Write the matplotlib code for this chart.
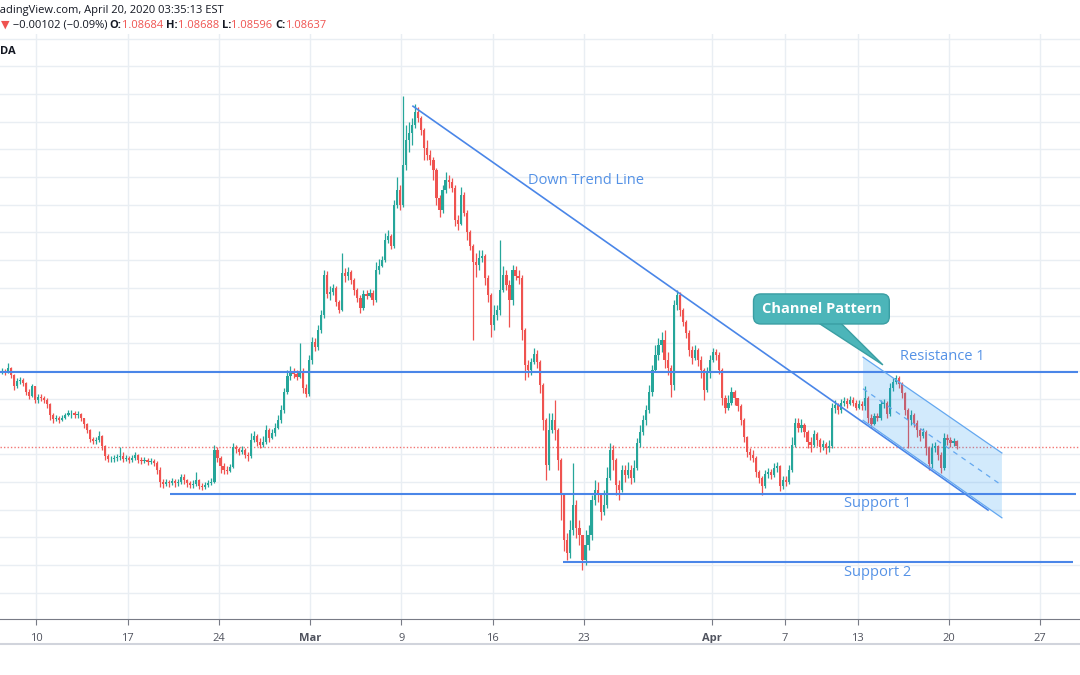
import numpy as np
import matplotlib
matplotlib.use('Agg')
import matplotlib.pyplot as plt
from matplotlib.patches import Polygon
from matplotlib.lines import Line2D

plt.rcParams['font.family'] = ['Open Sans', 'DejaVu Sans']

# EUR/USD, 4h candles from Feb 6 to Apr 20 2020
# (x axis counts trading days, Feb 10 = 0; six bars per day)
first_open = 1.0998
close = [
    1.1000, 1.0998, 1.1006, 1.0993, 1.0973, 1.0982,
    1.0984, 1.0979, 1.0962, 1.0955, 1.0973, 1.0947,
    1.0953, 1.0952, 1.0947, 1.0940, 1.0920, 1.0913,
    1.0915, 1.0911, 1.0915, 1.0920, 1.0924, 1.0924,
    1.0920, 1.0922, 1.0915, 1.0904, 1.0893, 1.0877,
    1.0873, 1.0875, 1.0882, 1.0864, 1.0846, 1.0841,
    1.0841, 1.0843, 1.0844, 1.0846, 1.0841, 1.0843,
    1.0839, 1.0843, 1.0848, 1.0839, 1.0837, 1.0839,
    1.0835, 1.0837, 1.0834, 1.0821, 1.0799, 1.0796,
    1.0799, 1.0798, 1.0801, 1.0798, 1.0799, 1.0808,
    1.0803, 1.0798, 1.0794, 1.0796, 1.0803, 1.0792,
    1.0790, 1.0794, 1.0798, 1.0799, 1.0857, 1.0843,
    1.0828, 1.0821, 1.0819, 1.0826, 1.0862, 1.0859,
    1.0853, 1.0857, 1.0848, 1.0846, 1.0875, 1.0882,
    1.0871, 1.0866, 1.0871, 1.0893, 1.0879, 1.0888,
    1.0897, 1.0911, 1.0929, 1.0962, 1.0991, 1.1000,
    1.0995, 1.0989, 1.0998, 1.0970, 1.0959, 1.1020,
    1.1052, 1.1043, 1.1074, 1.1101, 1.1173, 1.1139,
    1.1142, 1.1150, 1.1124, 1.1110, 1.1177, 1.1171,
    1.1178, 1.1164, 1.1146, 1.1132, 1.1114, 1.1139,
    1.1135, 1.1141, 1.1128, 1.1182, 1.1189, 1.1200,
    1.1236, 1.1243, 1.1225, 1.1299, 1.1327, 1.1299,
    1.1372, 1.1417, 1.1430, 1.1444, 1.1467, 1.1457,
    1.1435, 1.1403, 1.1390, 1.1381, 1.1363, 1.1312,
    1.1290, 1.1327, 1.1345, 1.1341, 1.1331, 1.1272,
    1.1265, 1.1318, 1.1286, 1.1250, 1.1225, 1.1196,
    1.1191, 1.1204, 1.1207, 1.1168, 1.1137, 1.1083,
    1.1101, 1.1110, 1.1146, 1.1173, 1.1155, 1.1128,
    1.1182, 1.1171, 1.1168, 1.1074, 1.1011, 1.1002,
    1.1016, 1.1031, 1.1016, 1.0975, 1.0911, 1.0830,
    1.0893, 1.0911, 1.0893, 1.0839, 1.0776, 1.0695,
    1.0672, 1.0713, 1.0758, 1.0717, 1.0704, 1.0659,
    1.0686, 1.0704, 1.0767, 1.0785, 1.0776, 1.0745,
    1.0758, 1.0807, 1.0857, 1.0839, 1.0794, 1.0785,
    1.0821, 1.0812, 1.0821, 1.0807, 1.0825, 1.0870,
    1.0889, 1.0911, 1.0929, 1.0962, 1.1002, 1.1029,
    1.1047, 1.1056, 1.1020, 1.1006, 1.0975, 1.1119,
    1.1137, 1.1110, 1.1088, 1.1068, 1.1038, 1.1023,
    1.1038, 1.1020, 1.1002, 1.0966, 1.0998, 1.1020,
    1.1034, 1.1029, 1.1002, 1.0951, 1.0933, 1.0943,
    1.0962, 1.0951, 1.0936, 1.0911, 1.0880, 1.0853,
    1.0848, 1.0843, 1.0817, 1.0807, 1.0792, 1.0814,
    1.0817, 1.0812, 1.0825, 1.0828, 1.0792, 1.0803,
    1.0799, 1.0821, 1.0866, 1.0907, 1.0897, 1.0902,
    1.0889, 1.0871, 1.0866, 1.0886, 1.0875, 1.0862,
    1.0868, 1.0861, 1.0864, 1.0933, 1.0938, 1.0929,
    1.0942, 1.0945, 1.0940, 1.0947, 1.0943, 1.0934,
    1.0940, 1.0936, 1.0952, 1.0915, 1.0904, 1.0918,
    1.0915, 1.0940, 1.0942, 1.0922, 1.0970, 1.0980,
    1.0988, 1.0977, 1.0960, 1.0929, 1.0911, 1.0920,
    1.0907, 1.0893, 1.0882, 1.0889, 1.0861, 1.0832,
    1.0861, 1.0864, 1.0848, 1.0825, 1.0879, 1.0875,
    1.0870, 1.0873, 1.0864,
]
high = [
    1.1006, 1.1004, 1.1015, 1.1007, 1.0995, 1.0988,
    1.0989, 1.0988, 1.0980, 1.0968, 1.0977, 1.0973,
    1.0959, 1.0959, 1.0955, 1.0952, 1.0942, 1.0925,
    1.0920, 1.0918, 1.0920, 1.0925, 1.0929, 1.0929,
    1.0927, 1.0927, 1.0924, 1.0916, 1.0907, 1.0895,
    1.0880, 1.0880, 1.0891, 1.0884, 1.0866, 1.0850,
    1.0846, 1.0848, 1.0850, 1.0862, 1.0853, 1.0848,
    1.0846, 1.0848, 1.0853, 1.0850, 1.0844, 1.0844,
    1.0843, 1.0843, 1.0841, 1.0837, 1.0826, 1.0805,
    1.0805, 1.0803, 1.0807, 1.0805, 1.0805, 1.0814,
    1.0814, 1.0805, 1.0801, 1.0803, 1.0817, 1.0805,
    1.0798, 1.0799, 1.0803, 1.0807, 1.0866, 1.0862,
    1.0846, 1.0834, 1.0828, 1.0832, 1.0870, 1.0866,
    1.0862, 1.0864, 1.0861, 1.0853, 1.0888, 1.0891,
    1.0886, 1.0879, 1.0882, 1.0902, 1.0897, 1.0895,
    1.0906, 1.0920, 1.0938, 1.0970, 1.1002, 1.1009,
    1.1006, 1.1002, 1.1050, 1.1006, 1.0977, 1.1029,
    1.1061, 1.1059, 1.1083, 1.1110, 1.1182, 1.1180,
    1.1153, 1.1157, 1.1153, 1.1128, 1.1213, 1.1186,
    1.1187, 1.1182, 1.1168, 1.1150, 1.1137, 1.1146,
    1.1146, 1.1148, 1.1146, 1.1196, 1.1202, 1.1207,
    1.1249, 1.1254, 1.1247, 1.1308, 1.1350, 1.1336,
    1.1496, 1.1444, 1.1449, 1.1457, 1.1482, 1.1476,
    1.1460, 1.1439, 1.1417, 1.1399, 1.1386, 1.1366,
    1.1318, 1.1336, 1.1359, 1.1354, 1.1348, 1.1336,
    1.1281, 1.1332, 1.1323, 1.1290, 1.1254, 1.1229,
    1.1213, 1.1218, 1.1218, 1.1211, 1.1173, 1.1141,
    1.1119, 1.1119, 1.1236, 1.1189, 1.1182, 1.1164,
    1.1191, 1.1189, 1.1182, 1.1173, 1.1077, 1.1020,
    1.1024, 1.1042, 1.1038, 1.1020, 1.0979, 1.0915,
    1.0924, 1.0925, 1.0947, 1.0897, 1.0843, 1.0780,
    1.0708, 1.0731, 1.0834, 1.0767, 1.0731, 1.0704,
    1.0713, 1.0722, 1.0776, 1.0803, 1.0799, 1.0776,
    1.0785, 1.0826, 1.0870, 1.0866, 1.0843, 1.0803,
    1.0830, 1.0830, 1.0835, 1.0830, 1.0839, 1.0879,
    1.0902, 1.0920, 1.0938, 1.0975, 1.1011, 1.1047,
    1.1059, 1.1070, 1.1074, 1.1034, 1.1011, 1.1128,
    1.1146, 1.1142, 1.1114, 1.1092, 1.1074, 1.1045,
    1.1047, 1.1041, 1.1027, 1.1006, 1.1007, 1.1029,
    1.1041, 1.1040, 1.1034, 1.1006, 1.0957, 1.0957,
    1.0971, 1.0966, 1.0952, 1.0940, 1.0915, 1.0882,
    1.0861, 1.0857, 1.0846, 1.0821, 1.0810, 1.0821,
    1.0825, 1.0823, 1.0834, 1.0835, 1.0830, 1.0810,
    1.0810, 1.0830, 1.0880, 1.0916, 1.0915, 1.0913,
    1.0907, 1.0893, 1.0880, 1.0893, 1.0889, 1.0879,
    1.0875, 1.0871, 1.0875, 1.0942, 1.0947, 1.0943,
    1.0950, 1.0953, 1.0952, 1.0955, 1.0953, 1.0947,
    1.0947, 1.0945, 1.0973, 1.0955, 1.0922, 1.0925,
    1.0925, 1.0947, 1.0950, 1.0945, 1.0979, 1.0988,
    1.0993, 1.0991, 1.0980, 1.0962, 1.0933, 1.0929,
    1.0924, 1.0911, 1.0897, 1.0897, 1.0893, 1.0864,
    1.0870, 1.0871, 1.0866, 1.0853, 1.0888, 1.0886,
    1.0880, 1.0879, 1.0875,
]
low = [
    1.0995, 1.0993, 1.0997, 1.0988, 1.0966, 1.0970,
    1.0977, 1.0973, 1.0957, 1.0950, 1.0953, 1.0942,
    1.0943, 1.0945, 1.0942, 1.0934, 1.0911, 1.0907,
    1.0909, 1.0906, 1.0909, 1.0913, 1.0918, 1.0916,
    1.0915, 1.0915, 1.0909, 1.0897, 1.0888, 1.0871,
    1.0868, 1.0868, 1.0871, 1.0857, 1.0839, 1.0835,
    1.0835, 1.0835, 1.0837, 1.0839, 1.0835, 1.0837,
    1.0834, 1.0835, 1.0839, 1.0834, 1.0832, 1.0834,
    1.0830, 1.0832, 1.0828, 1.0814, 1.0790, 1.0789,
    1.0792, 1.0790, 1.0794, 1.0790, 1.0792, 1.0796,
    1.0796, 1.0790, 1.0789, 1.0789, 1.0792, 1.0787,
    1.0785, 1.0787, 1.0790, 1.0794, 1.0798, 1.0835,
    1.0816, 1.0814, 1.0814, 1.0817, 1.0825, 1.0852,
    1.0848, 1.0850, 1.0843, 1.0837, 1.0843, 1.0871,
    1.0864, 1.0861, 1.0862, 1.0868, 1.0871, 1.0877,
    1.0882, 1.0895, 1.0907, 1.0925, 1.0959, 1.0984,
    1.0988, 1.0984, 1.0988, 1.0961, 1.0953, 1.0955,
    1.1013, 1.1036, 1.1038, 1.1068, 1.1096, 1.1132,
    1.1128, 1.1137, 1.1117, 1.1105, 1.1108, 1.1160,
    1.1164, 1.1157, 1.1137, 1.1124, 1.1105, 1.1110,
    1.1130, 1.1133, 1.1119, 1.1124, 1.1175, 1.1187,
    1.1196, 1.1231, 1.1220, 1.1222, 1.1294, 1.1290,
    1.1296, 1.1363, 1.1395, 1.1408, 1.1438, 1.1449,
    1.1426, 1.1381, 1.1381, 1.1372, 1.1345, 1.1299,
    1.1278, 1.1286, 1.1322, 1.1331, 1.1323, 1.1261,
    1.1254, 1.1263, 1.1279, 1.1236, 1.1218, 1.1056,
    1.1169, 1.1182, 1.1196, 1.1155, 1.1124, 1.1061,
    1.1074, 1.1092, 1.1101, 1.1142, 1.1146, 1.1079,
    1.1119, 1.1164, 1.1157, 1.1056, 1.0984, 1.0989,
    1.0993, 1.1013, 1.1006, 1.0961, 1.0893, 1.0803,
    1.0821, 1.0888, 1.0875, 1.0821, 1.0731, 1.0675,
    1.0659, 1.0663, 1.0704, 1.0699, 1.0686, 1.0641,
    1.0650, 1.0677, 1.0695, 1.0758, 1.0763, 1.0731,
    1.0740, 1.0752, 1.0803, 1.0821, 1.0776, 1.0767,
    1.0781, 1.0799, 1.0807, 1.0796, 1.0799, 1.0821,
    1.0862, 1.0884, 1.0902, 1.0925, 1.0955, 1.0998,
    1.1020, 1.1034, 1.1006, 1.0993, 1.0953, 1.0966,
    1.1110, 1.1099, 1.1081, 1.1059, 1.1027, 1.1013,
    1.1020, 1.1009, 1.0988, 1.0947, 1.0962, 1.0988,
    1.1016, 1.1020, 1.0995, 1.0938, 1.0924, 1.0929,
    1.0938, 1.0938, 1.0927, 1.0902, 1.0871, 1.0844,
    1.0839, 1.0835, 1.0808, 1.0798, 1.0776, 1.0789,
    1.0807, 1.0805, 1.0808, 1.0817, 1.0783, 1.0787,
    1.0792, 1.0796, 1.0817, 1.0862, 1.0889, 1.0889,
    1.0880, 1.0861, 1.0853, 1.0862, 1.0864, 1.0853,
    1.0857, 1.0850, 1.0853, 1.0861, 1.0925, 1.0922,
    1.0925, 1.0936, 1.0934, 1.0938, 1.0936, 1.0929,
    1.0931, 1.0929, 1.0929, 1.0907, 1.0897, 1.0902,
    1.0909, 1.0911, 1.0933, 1.0915, 1.0918, 1.0964,
    1.0977, 1.0970, 1.0951, 1.0920, 1.0861, 1.0902,
    1.0899, 1.0880, 1.0873, 1.0879, 1.0848, 1.0821,
    1.0825, 1.0853, 1.0839, 1.0816, 1.0821, 1.0866,
    1.0862, 1.0864, 1.0859,
]

tick_days = [0, 5, 10, 15, 20, 25, 30, 37, 41, 45, 50, 55]
tick_labels = ['10', '17', '24', 'Mar', '9', '16', '23', 'Apr', '7', '13', '20', '27']

last_price = 1.08637
resistance1 = 1.0998
support1 = 1.0778
support2 = 1.0655
trend_x = [20.63, 52.14]
trend_y = [1.1478, 1.0749]
chan_x = [45.29, 52.90]
chan_top = [1.1025, 1.0852]
chan_bot = [1.0911, 1.0735]

UP = '#26a69a'
DOWN = '#ef5350'
BLUE = '#4a86e8'
CHAN = '#64a8f0'
TXT = '#5592e6'
DARK = '#131722'

W, H = 1080, 675
fig = plt.figure(figsize=(W / 100, H / 100), dpi=100)
ax = fig.add_axes([0, 56 / H, 1, 585 / H])

# candles
c = np.array(close)
o = np.r_[first_open, c[:-1]]
hi = np.maximum(np.array(high), np.maximum(o, c))
lo = np.minimum(np.array(low), np.minimum(o, c))
x = -2 + (np.arange(len(c)) + 0.5) / 6
col = np.where(c >= o, UP, DOWN)
ax.vlines(x, lo, hi, colors=col, lw=0.9, zorder=3)
ax.bar(x, np.maximum(np.abs(c - o), 0.00005), bottom=np.minimum(o, c),
       width=0.12, color=col, lw=0, zorder=3)

# last price
ax.axhline(last_price, color=DOWN, lw=1, ls=(0, (1, 1.5)), alpha=0.8, zorder=2.5)

# drawings
ax.hlines(resistance1, -2, 57.05, color=BLUE, lw=1.5, zorder=5)
ax.hlines(support1, 7.32, 56.96, color=BLUE, lw=1.5, zorder=5)
ax.hlines(support2, 28.85, 56.8, color=BLUE, lw=1.5, zorder=5)
ax.plot(trend_x, trend_y, color=BLUE, lw=1.2, zorder=5)

ax.add_patch(Polygon([(chan_x[0], chan_top[0]), (chan_x[1], chan_top[1]),
                      (chan_x[1], chan_bot[1]), (chan_x[0], chan_bot[0])],
                     closed=True, fc='#2196f3', alpha=0.2, lw=0, zorder=4))
ax.plot(chan_x, chan_top, color=CHAN, lw=0.9, zorder=5)
ax.plot(chan_x, chan_bot, color=CHAN, lw=0.9, zorder=5)
ax.plot(chan_x, [(chan_top[0] + chan_bot[0]) / 2, (chan_top[1] + chan_bot[1]) / 2],
        color=CHAN, lw=0.9, ls=(0, (4, 4)), zorder=5)

lab = dict(color=TXT, fontsize=10.5, ha='center', va='center', zorder=6)
ax.text(30.11, 1.1343, 'Down Trend Line', **lab)
ax.text(49.62, 1.1027, 'Resistance 1', **lab)
ax.text(46.1, 1.0760, 'Support 1', **lab)
ax.text(46.1, 1.0636, 'Support 2', **lab)

BOX = '#4cb5b9'
BOXE = '#3a9ea3'
ax.add_patch(Polygon([(42.6, 1.1092), (43.9, 1.1092), (46.38, 1.1011)],
                     closed=True, fc=BOX, ec=BOXE, lw=1, zorder=7))
ax.text(43.01, 1.1112, 'Channel Pattern', color='white', fontsize=10.5,
        fontweight='bold', ha='center', va='center', zorder=8,
        bbox=dict(boxstyle='round,pad=0.55,rounding_size=0.5', fc=BOX, ec=BOXE, lw=1))

# axes look
ax.set_xticks(tick_days)
ax.set_xticklabels(tick_labels)
ax.set_yticks(np.arange(1.055, 1.1601, 0.005))
ax.set_xlim(-2, 57.18)
ax.set_ylim(1.055235, 1.16083)
ax.grid(True, color='#e9eef3', lw=1)
ax.set_axisbelow(True)
ax.tick_params(axis='y', left=False, labelleft=False)
ax.tick_params(axis='x', length=4, color='#787b86', labelcolor='#50535e', labelsize=8, pad=6)
for sp in ['top', 'left', 'right']:
    ax.spines[sp].set_visible(False)
ax.spines['bottom'].set_color('#787b86')
for t in ax.get_xticklabels():
    if t.get_text() in ('Mar', 'Apr'):
        t.set_fontweight('bold')

fig.add_artist(Line2D([0, 1], [1 - 644 / H] * 2, color='#d1d4dc', lw=1.5))

# header legend
fig.canvas.draw()
r = fig.canvas.get_renderer()


def row(pieces, x_px, y_px, size=8):
    for s, colr, wt in pieces:
        t = fig.text(x_px / W, 1 - y_px / H, s, color=colr, fontweight=wt,
                     fontsize=size, ha='left', va='center')
        x_px += t.get_window_extent(r).width


tmp = fig.text(0, 0, 'Tr', fontsize=8)
cut = tmp.get_window_extent(r).width
tmp.remove()
row([('TradingView.com, April 20, 2020 03:35:13 EST', DARK, 'normal')], -cut, 11)
row([('▼', DOWN, 'normal'), (' −0.00102 (−0.09%) ', DARK, 'normal'),
     ('O:', DARK, 'bold'), ('1.08684 ', DOWN, 'normal'),
     ('H:', DARK, 'bold'), ('1.08688 ', DOWN, 'normal'),
     ('L:', DARK, 'bold'), ('1.08596 ', DOWN, 'normal'),
     ('C:', DARK, 'bold'), ('1.08637', DOWN, 'normal')], 1, 25)
row([('DA', DARK, 'bold')], 0, 52)

fig.savefig('out.png', dpi=100)
